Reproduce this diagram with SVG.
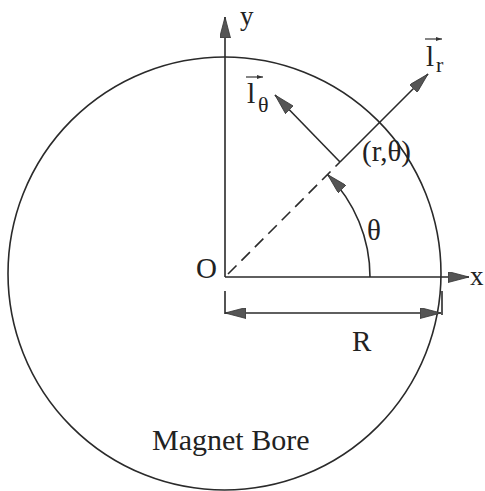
<svg xmlns="http://www.w3.org/2000/svg" width="485" height="491" viewBox="0 0 485 491">
<style>
.ln{stroke:#2a2a2a;stroke-width:1.6;fill:none}
.t{font-family:"Liberation Serif","Times New Roman",serif;fill:#222}
</style>
<defs>
<marker id="ah" viewBox="0 0 21 11" refX="21" refY="5.5" markerWidth="21" markerHeight="11" markerUnits="userSpaceOnUse" orient="auto-start-reverse">
<path d="M0,0 L21,5.5 L0,11 z" fill="#555" stroke="#333" stroke-width="0.8"/>
</marker>
<marker id="sa" viewBox="0 0 6 4" refX="6" refY="2" markerWidth="6" markerHeight="4" markerUnits="userSpaceOnUse" orient="auto">
<path d="M0,0 L6,2 L0,4 z" fill="#333"/>
</marker>
</defs>
<g id="bore">
<circle cx="224.5" cy="273.5" r="216.5" class="ln"/>
<text class="t" x="152" y="450" font-size="30">Magnet Bore</text>
</g>
<g id="connectors">
<line class="ln" x1="225" y1="277" x2="225" y2="17" marker-end="url(#ah)"/>
<line class="ln" x1="225" y1="277" x2="469" y2="277" marker-end="url(#ah)"/>
<line class="ln" x1="228" y1="274" x2="340" y2="162" stroke-dasharray="12 7"/>
<line class="ln" x1="340" y1="162" x2="428" y2="74" marker-end="url(#ah)"/>
<line class="ln" x1="340" y1="162" x2="275" y2="95" marker-end="url(#ah)"/>
<path class="ln" d="M370,277 A145,145 0 0 0 327.5,174.5" marker-end="url(#ah)"/>
<line class="ln" x1="225" y1="291" x2="225" y2="314"/>
<line class="ln" x1="442" y1="291" x2="442" y2="315"/>
<line class="ln" x1="225" y1="313" x2="441" y2="313" marker-start="url(#ah)" marker-end="url(#ah)"/>
</g>
<g id="labels">
<text class="t" x="240" y="25" font-size="27">y</text>
<text class="t" x="470" y="285" font-size="27">x</text>
<text class="t" x="196" y="278" font-size="29">O</text>
<text class="t" x="352" y="351" font-size="29">R</text>
<text class="t" x="367" y="240" font-size="29">θ</text>
<text class="t" x="362" y="161" font-size="29">(r,θ)</text>
</g>
<g id="ir">
<line x1="425" y1="39" x2="442" y2="39" stroke="#333" stroke-width="1.2" marker-end="url(#sa)"/>
<text class="t" x="426" y="66" font-size="29">l</text>
<text class="t" x="436" y="72" font-size="22">r</text>
</g>
<g id="itheta">
<line x1="246" y1="77" x2="263" y2="77" stroke="#333" stroke-width="1.2" marker-end="url(#sa)"/>
<text class="t" x="247" y="103" font-size="30">l</text>
<text class="t" x="258" y="112" font-size="22">θ</text>
</g>
</svg>
